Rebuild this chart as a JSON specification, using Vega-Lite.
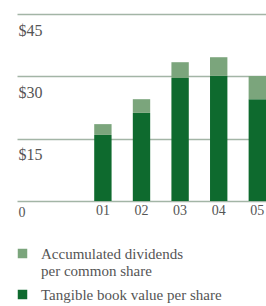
{
  "$schema": "https://vega.github.io/schema/vega-lite/v6.json",
  "width": 249,
  "height": 187,
  "autosize": {"type": "none"},
  "padding": {"left": 17, "top": 14, "right": 0, "bottom": 105},
  "background": "#ffffff",
  "config": {"view": {"stroke": null}},
  "data": {
    "values": [
      {"year": "01", "series": "Tangible book value per share", "value": 15.9, "ord": 1},
      {"year": "01", "series": "Accumulated dividends per common share", "value": 2.6, "ord": 2},
      {"year": "02", "series": "Tangible book value per share", "value": 21.2, "ord": 1},
      {"year": "02", "series": "Accumulated dividends per common share", "value": 3.3, "ord": 2},
      {"year": "03", "series": "Tangible book value per share", "value": 29.6, "ord": 1},
      {"year": "03", "series": "Accumulated dividends per common share", "value": 3.8, "ord": 2},
      {"year": "04", "series": "Tangible book value per share", "value": 30.1, "ord": 1},
      {"year": "04", "series": "Accumulated dividends per common share", "value": 4.5, "ord": 2},
      {"year": "05", "series": "Tangible book value per share", "value": 24.5, "ord": 1},
      {"year": "05", "series": "Accumulated dividends per common share", "value": 5.6, "ord": 2}
    ]
  },
  "mark": {"type": "bar"},
  "encoding": {
    "x": {
      "field": "year",
      "type": "nominal",
      "sort": null,
      "scale": {"paddingInner": 0.55, "paddingOuter": 1.073, "align": 1},
      "axis": {
        "title": null,
        "domain": false,
        "ticks": false,
        "labelAngle": 0,
        "labelPadding": 9,
        "labelFont": "Liberation Serif",
        "labelFontSize": 14,
        "labelColor": "#555555",
        "labelBaseline": "middle",
        "labelOffset": 0
      }
    },
    "y": {
      "field": "value",
      "type": "quantitative",
      "stack": "zero",
      "scale": {"domain": [0, 45], "nice": false},
      "axis": {
        "title": null,
        "values": [0, 15, 30, 45],
        "domain": false,
        "ticks": false,
        "grid": true,
        "gridColor": "#a3b5a6",
        "gridWidth": 1.5,
        "labelAlign": "left",
        "labelBaseline": "middle",
        "labelPadding": -1,
        "labelOffset": {"condition": {"test": "datum.value == 0", "value": 11}, "value": 16},
        "labelExpr": "datum.value == 0 ? '0' : '$' + datum.value",
        "labelFont": "Liberation Serif",
        "labelFontSize": {"condition": {"test": "datum.value == 0", "value": 14}, "value": 16},
        "labelColor": "#555555"
      }
    },
    "color": {
      "field": "series",
      "type": "nominal",
      "scale": {
        "domain": ["Accumulated dividends per common share", "Tangible book value per share"],
        "range": ["#7ba57c", "#0e6a2e"]
      },
      "legend": {
        "title": null,
        "orient": "none",
        "legendX": -2,
        "legendY": 232,
        "direction": "vertical",
        "symbolType": "square",
        "symbolSize": 90,
        "symbolStrokeWidth": 0,
        "symbolOpacity": 1,
        "labelFont": "Liberation Serif",
        "labelFontSize": 15,
        "labelColor": "#555555",
        "labelLimit": 300,
        "labelOffset": 11,
        "rowPadding": 8,
        "labelExpr": "datum.label == 'Accumulated dividends per common share' ? ['Accumulated dividends', 'per common share'] : datum.label"
      }
    },
    "order": {"field": "ord", "type": "quantitative"}
  }
}
